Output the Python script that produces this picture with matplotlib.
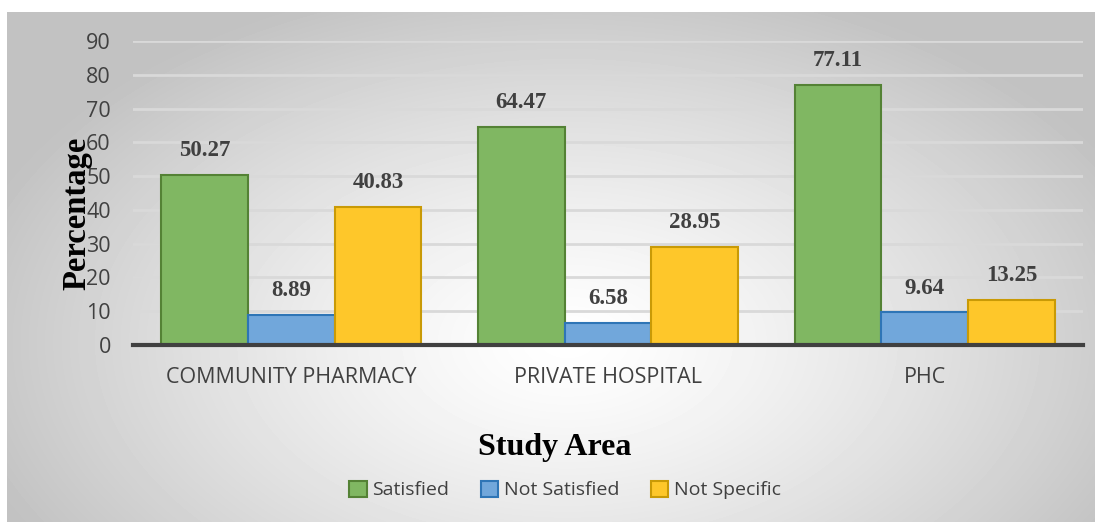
import numpy as np
import matplotlib
matplotlib.use("Agg")
import matplotlib.pyplot as plt
from matplotlib.patches import Patch

areas = ["COMMUNITY PHARMACY", "PRIVATE HOSPITAL", "PHC"]
satisfied = [50.27, 64.47, 77.11]
not_satisfied = [8.89, 6.58, 9.64]
not_specific = [40.83, 28.95, 13.25]
series_names = ["Satisfied", "Not Satisfied", "Not Specific"]

face_colors = ["#80b762", "#71a7db", "#fec72a"]
edge_colors = ["#548235", "#2e75b6", "#c99a06"]

W, H = 1102, 522
fig = plt.figure(figsize=(W / 100, H / 100), dpi=100)

# radial grey-to-white background behind the chart area
bg = fig.add_axes([7 / W, 0, (1095 - 7) / W, (522 - 12) / H])
bg.set_axis_off()
yy, xx = np.mgrid[0:510, 0:1088]
cx, cy = 560, 330
d = np.sqrt(((xx - cx) / 700.0) ** 2 + ((yy - cy) / 420.0) ** 2)
shade = np.clip(1.0 - 0.28 * d ** 1.3, 0.76, 1.0)
bg.imshow(shade, cmap="gray", vmin=0, vmax=1, aspect="auto",
          extent=[0, 1, 0, 1], interpolation="bilinear")
bg.set_xlim(0, 1)
bg.set_ylim(0, 1)

ax = fig.add_axes([133 / W, 1 - 345 / H, (1083 - 133) / W, (345 - 41) / H])
ax.patch.set_alpha(0)

x = np.arange(len(areas))
width = 0.274
for i, (vals, name) in enumerate(zip([satisfied, not_satisfied, not_specific], series_names)):
    pos = x + (i - 1) * width
    ax.bar(pos, vals, width, color=face_colors[i], edgecolor=edge_colors[i],
           linewidth=1.5, label=name, zorder=3)
    for px, v in zip(pos, vals):
        ax.annotate(f"{v:.2f}", (px, v), xytext=(0, 10), textcoords="offset points",
                    ha="center", va="bottom", fontsize=16.5, fontweight="bold",
                    family="Liberation Serif", color="#404040")

ax.set_xlim(-0.5, 2.5)
ax.set_ylim(0, 90)
ax.set_yticks(range(0, 91, 10))
ax.yaxis.grid(True, color="#d9d9d9", linewidth=2, zorder=0)
ax.set_axisbelow(True)
for s in ["top", "right", "left"]:
    ax.spines[s].set_visible(False)
ax.spines["bottom"].set_color("#404040")
ax.spines["bottom"].set_linewidth(3)
ax.spines["bottom"].set_zorder(4)
ax.tick_params(axis="both", length=0, labelsize=15.5, labelcolor="#404040")
ax.tick_params(axis="y", pad=16)
ax.tick_params(axis="x", pad=16)
ax.set_xticks(x)
ax.set_xticklabels(areas)
for lbl in ax.get_xticklabels() + ax.get_yticklabels():
    lbl.set_family("Open Sans")

fig.text(77 / W, 1 - 213 / H, "Percentage", rotation=90, ha="center", va="center",
         fontsize=23.5, fontweight="bold", family="Liberation Serif", color="black")
fig.text(555 / W, 1 - 447 / H, "Study Area", ha="center", va="center",
         fontsize=23, fontweight="bold", family="Liberation Serif", color="black")

handles = [Patch(facecolor=f, edgecolor=e, linewidth=1.5) for f, e in zip(face_colors, edge_colors)]
leg = fig.legend(handles, series_names, loc="center", bbox_to_anchor=(565 / W, 1 - 490 / H),
                 ncol=3, frameon=False, handlelength=0.9, handleheight=0.9,
                 handletextpad=0.3, columnspacing=1.6,
                 prop={"family": "Open Sans", "size": 14})
for t in leg.get_texts():
    t.set_color("#404040")

fig.savefig("out.png", dpi=100)
